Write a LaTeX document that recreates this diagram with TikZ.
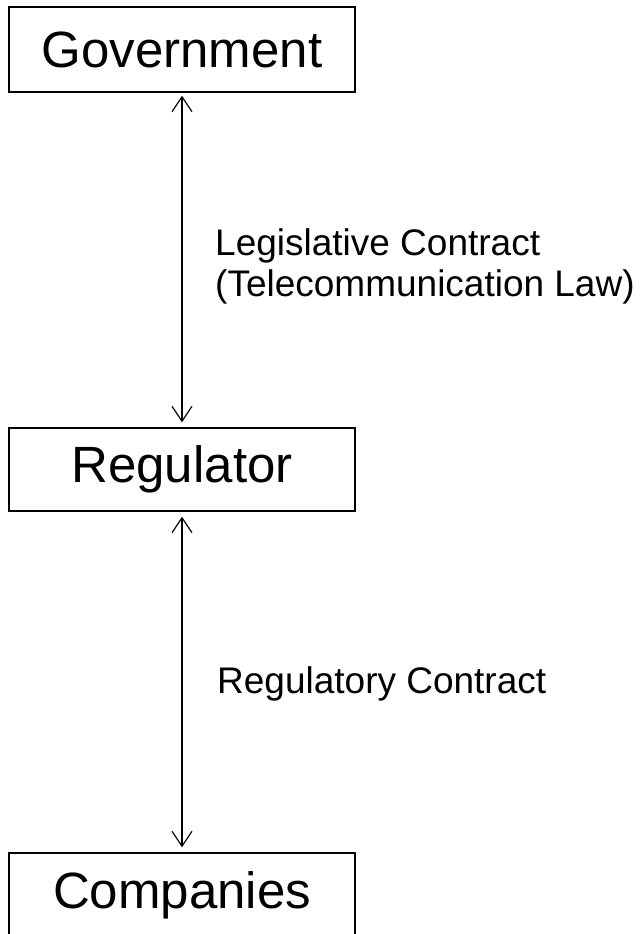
\documentclass[tikz,border=0pt]{standalone}
\usepackage{fontspec}
\setmainfont{Liberation Sans}
\usetikzlibrary{arrows.meta}
\begin{document}
\begin{tikzpicture}[x=1pt,y=-1pt,
  party/.style={draw=black, line width=1.3pt, minimum width=346pt,
    inner sep=0pt, font=\fontsize{51}{60}\selectfont},
  link/.style={line width=1.2pt, {Straight Barb[length=15pt,width=20pt,line width=1.2pt]}-{Straight Barb[length=15pt,width=20pt,line width=1.2pt]}},
  note/.style={inner sep=0pt, align=left, anchor=base west,
    font=\fontsize{37}{41}\selectfont}]
  \useasboundingbox (0,0) rectangle (642,934);
  \begin{scope}
    \clip (0,0) rectangle (642,934);
    \node[party, minimum height=85pt] (gov) at (182,49.5) {Government};
    \node[party, minimum height=83pt] (reg) at (182,469.5) {Regulator};
    \node[party, minimum height=84pt] (comp) at (182,895) {Companies};
  \end{scope}
  \draw[link, shorten <=3pt, shorten >=5pt] (gov) -- (reg);
  \draw[link, shorten <=5pt, shorten >=5pt] (reg) -- (comp);
  \node[note] (legis) at (215,296) {Legislative Contract\\(Telecommunication Law)};
  \node[note] (regc) at (217,693) {Regulatory Contract};
\end{tikzpicture}
\end{document}
